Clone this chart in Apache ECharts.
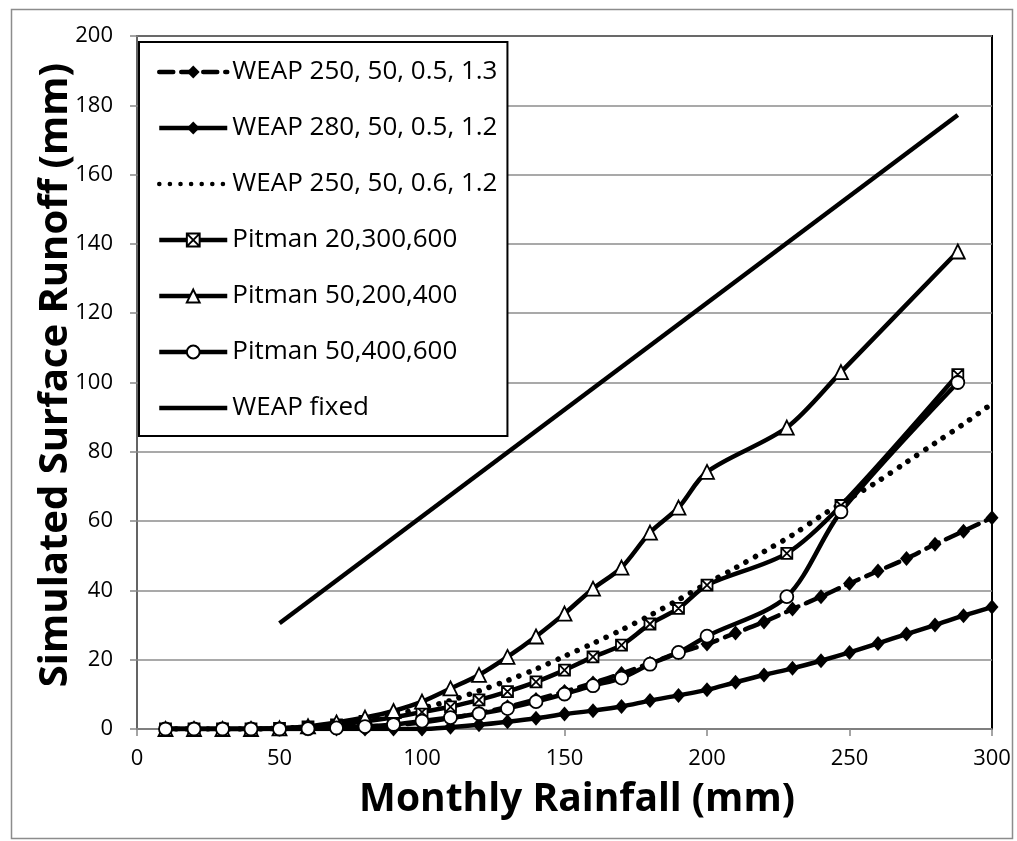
<!DOCTYPE html>
<html>
<head>
<meta charset="utf-8">
<script src="https://cdn.jsdelivr.net/npm/echarts@6/dist/echarts.min.js"></script>
<style>
  html, body { margin: 0; padding: 0; background: #fff; }
  #chart { width: 1017px; height: 841px; }
</style>
</head>
<body>
<div id="chart"></div>
<script>
// monthly rainfall (mm) used by the WEAP runs
const rainWeap = [10, 20, 30, 40, 50, 60, 70, 80, 90, 100, 110, 120, 130, 140, 150,
                  160, 170, 180, 190, 200, 210, 220, 230, 240, 250, 260, 270, 280, 290, 300];
const weap250_05_13 = [0, 0, 0, 0, 0.1, 0.2, 0.4, 0.7, 1.1, 1.9, 3.1, 4.6, 6.4, 8.5, 10.8,
                       13.3, 16, 19, 22, 24.5, 27.7, 30.9, 34.6, 38.2, 42, 45.6, 49.2, 53.3, 57.1, 61];
const weap280_05_12 = [0, 0, 0, 0, 0, 0, 0, 0, 0, 0, 0.5, 1.2, 2.1, 3.1, 4.3,
                       5.3, 6.5, 8.2, 9.7, 11.3, 13.5, 15.6, 17.5, 19.7, 22.1, 24.7, 27.4, 30, 32.7, 35.2];
const weap250_06_12 = [0, 0, 0, 0, 0.2, 0.6, 1.4, 2.6, 4.1, 6, 8.2, 11, 14, 17.3, 21,
                       24.7, 28.6, 32.8, 37.3, 42, 46.5, 51.2, 56, 61.5, 66.5, 71.5, 77, 82.5, 88, 93.9];

// monthly rainfall (mm) used by the Pitman runs
const rainPitman = [10, 20, 30, 40, 50, 60, 70, 80, 90, 100, 110, 120, 130, 140, 150,
                    160, 170, 180, 190, 200, 228, 247, 288];
const pitman20_300_600 = [0, 0, 0, 0, 0.2, 0.6, 1.2, 2.2, 3.4, 4.9, 6.4, 8.4, 10.8, 13.6, 17,
                          20.8, 24.2, 30.3, 34.8, 41.5, 50.7, 64.5, 102.3];
const pitman50_200_400 = [0, 0, 0, 0, 0.2, 0.8, 1.9, 3.3, 5.2, 7.9, 11.7, 15.6, 20.8, 26.7, 33.3,
                          40.5, 46.6, 56.7, 63.9, 74.2, 87, 103, 137.8];
const pitman50_400_600 = [0, 0, 0, 0, 0, 0.1, 0.3, 0.7, 1.3, 2.3, 3.3, 4.4, 5.9, 7.9, 10.1,
                          12.5, 14.7, 18.7, 22.1, 26.8, 38.2, 62.7, 100];

// WEAP with fixed coefficient
const rainFixed = [50, 288];
const weapFixed = [30.5, 177.2];

const seriesNames = ['WEAP 250, 50, 0.5, 1.3', 'WEAP 280, 50, 0.5, 1.2', 'WEAP 250, 50, 0.6, 1.2',
                     'Pitman 20,300,600', 'Pitman 50,200,400', 'Pitman 50,400,600', 'WEAP fixed'];

const pairs = (xs, ys) => xs.map((x, i) => [x, ys[i]]);
const FONT = 'Open Sans';
const boxCross = 'path://M0,0 L10,0 L10,10 L0,10 Z M0,0 L10,10 M10,0 L0,10';

const chart = echarts.init(document.getElementById('chart'));

function lineSeries(name, data, lineType, symbol, size, fill, width) {
    return {
        name: name,
        type: 'line',
        data: data,
        smooth: 0.3,
        symbol: symbol,
        symbolSize: size,
        showSymbol: symbol !== 'none',
        lineStyle: {color: '#000', width: width || 4.5, type: lineType, cap: lineType === 'solid' ? 'butt' : 'round'},
        itemStyle: {color: fill, borderColor: '#000', borderWidth: fill === '#000' ? 0 : 1.8},
        emphasis: {disabled: true},
        animation: false
    };
}

// series without markers get no marker in the legend either
const legendData = seriesNames.map((n, i) =>
    (i === 2 || i === 6) ? {name: n, itemStyle: {opacity: 0}} : {name: n});

chart.setOption({
    backgroundColor: '#ffffff',
    textStyle: {fontFamily: FONT},
    grid: {
        left: 137,
        right: 25,
        top: 36,
        bottom: 112,
        show: true,
        borderColor: '#000',
        borderWidth: 2,
        backgroundColor: 'transparent'
    },
    legend: {
        orient: 'vertical',
        left: 139,
        top: 42,
        padding: [16, 10, 14, 18],
        itemWidth: 68,
        itemHeight: 16,
        itemGap: 28,
        backgroundColor: '#fff',
        borderColor: '#000',
        borderWidth: 2,
        borderRadius: 0,
        selectedMode: false,
        textStyle: {fontFamily: FONT, fontSize: 26, color: '#000', lineHeight: 28},
        lineStyle: {width: 4.5},
        data: legendData
    },
    xAxis: {
        type: 'value',
        min: 0,
        max: 300,
        interval: 50,
        axisLine: {show: true, onZero: false, lineStyle: {color: '#868686', width: 1.5}},
        axisTick: {show: true, inside: false, length: 7, lineStyle: {color: '#868686', width: 1.5}},
        axisLabel: {fontFamily: FONT, fontSize: 22, color: '#000', margin: 19},
        splitLine: {show: false}
    },
    yAxis: {
        type: 'value',
        min: 0,
        max: 200,
        interval: 20,
        axisLine: {show: true, lineStyle: {color: '#868686', width: 1.5}},
        axisTick: {show: true, inside: false, length: 7, lineStyle: {color: '#868686', width: 1.5}},
        axisLabel: {fontFamily: FONT, fontSize: 22, color: '#000', margin: 24},
        splitLine: {show: true, lineStyle: {color: '#8c8c8c', width: 1.5}}
    },
    graphic: [
        {
            type: 'rect',
            left: 9,
            top: 7,
            shape: {width: 1001, height: 829},
            style: {fill: 'none', stroke: '#8c8c8c', lineWidth: 1.5},
            silent: true,
            z: -1
        },
        {
            type: 'text',
            x: 577,
            y: 800,
            style: {
                text: 'Monthly Rainfall (mm)',
                font: 'bold 39px "Open Sans"',
                fill: '#000',
                align: 'center',
                verticalAlign: 'middle'
            }
        },
        {
            type: 'text',
            x: 56,
            y: 375,
            rotation: Math.PI / 2,
            style: {
                text: 'Simulated Surface Runoff (mm)',
                font: 'bold 40px "Open Sans"',
                fill: '#000',
                align: 'center',
                verticalAlign: 'middle'
            }
        }
    ],
    series: [
        lineSeries(seriesNames[0], pairs(rainWeap, weap250_05_13), [14, 8], 'diamond', [13, 15], '#000'),
        lineSeries(seriesNames[1], pairs(rainWeap, weap280_05_12), 'solid', 'diamond', [13, 15], '#000'),
        lineSeries(seriesNames[2], pairs(rainWeap, weap250_06_12), [0.1, 10.5], 'none', 0, '#000', 5.5),
        lineSeries(seriesNames[3], pairs(rainPitman, pitman20_300_600), 'solid', boxCross, 11, '#fff'),
        lineSeries(seriesNames[4], pairs(rainPitman, pitman50_200_400), 'solid', 'triangle', 14, '#fff'),
        lineSeries(seriesNames[5], pairs(rainPitman, pitman50_400_600), 'solid', 'circle', 13, '#fff'),
        lineSeries(seriesNames[6], pairs(rainFixed, weapFixed), 'solid', 'none', 0, '#000')
    ]
});
</script>
</body>
</html>
